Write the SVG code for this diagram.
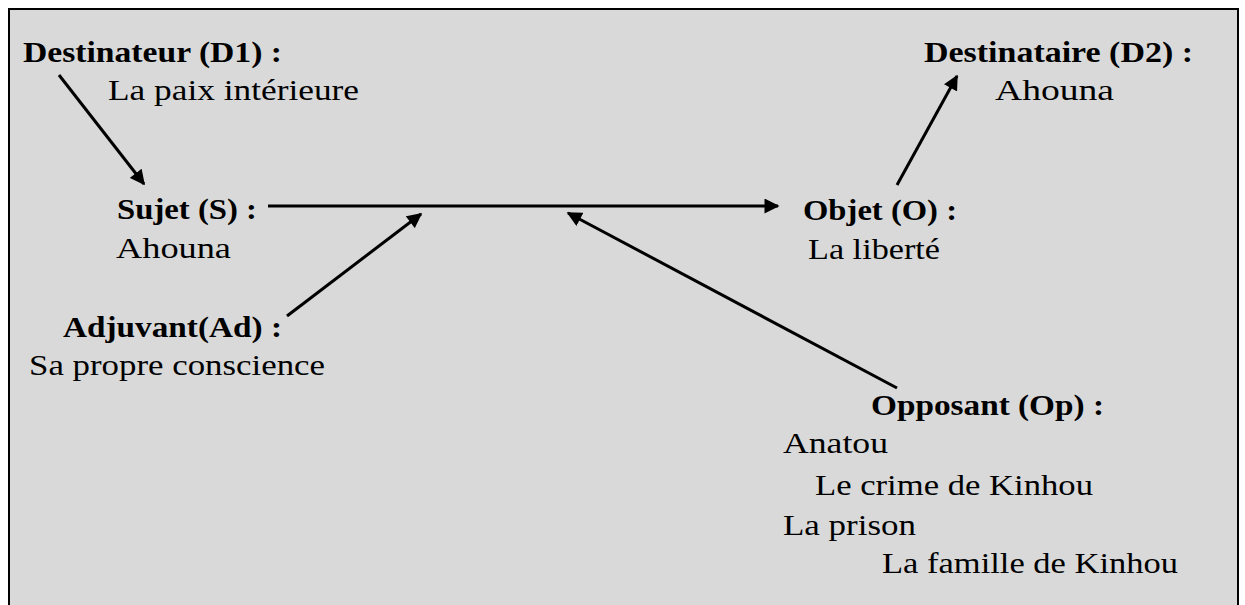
<svg xmlns="http://www.w3.org/2000/svg" width="1245" height="605" viewBox="0 0 1245 605">
<style>
.t{font-family:"Liberation Serif","Times New Roman",serif;font-size:30px;fill:#000}
.b{font-weight:bold}
.c{stroke:#000;stroke-width:3;fill:none}
</style>
<defs>
<marker id="ah" viewBox="0 0 10 10" refX="9" refY="5" markerWidth="5.2" markerHeight="5" orient="auto" markerUnits="strokeWidth">
<path d="M0,0 L10,5 L0,10 z" fill="#000"/>
</marker>
</defs>
<rect x="9" y="9" width="1229" height="603" fill="#d9d9d9" stroke="#000" stroke-width="2"/>
<g id="connectors">
<line class="c" x1="59" y1="75" x2="144" y2="184" marker-end="url(#ah)"/>
<line class="c" x1="268" y1="206" x2="778" y2="206" marker-end="url(#ah)"/>
<line class="c" x1="287" y1="316" x2="421" y2="214" marker-end="url(#ah)"/>
<line class="c" x1="897" y1="388" x2="568" y2="213" marker-end="url(#ah)"/>
<line class="c" x1="897" y1="185" x2="957" y2="76" marker-end="url(#ah)"/>
</g>
<g id="destinateur">
<text class="t b" x="23" y="62" textLength="259" lengthAdjust="spacingAndGlyphs">Destinateur (D1) :</text>
<text class="t" x="108" y="100" textLength="251" lengthAdjust="spacingAndGlyphs">La paix intérieure</text>
</g>
<g id="destinataire">
<text class="t b" x="924" y="62" textLength="269" lengthAdjust="spacingAndGlyphs">Destinataire (D2) :</text>
<text class="t" x="995" y="100" textLength="119" lengthAdjust="spacingAndGlyphs">Ahouna</text>
</g>
<g id="sujet">
<text class="t b" x="117" y="219" textLength="140" lengthAdjust="spacingAndGlyphs">Sujet (S) :</text>
<text class="t" x="116" y="258" textLength="115" lengthAdjust="spacingAndGlyphs">Ahouna</text>
</g>
<g id="objet">
<text class="t b" x="803" y="220" textLength="154" lengthAdjust="spacingAndGlyphs">Objet (O) :</text>
<text class="t" x="808" y="259" textLength="132" lengthAdjust="spacingAndGlyphs">La liberté</text>
</g>
<g id="adjuvant">
<text class="t b" x="63" y="337" textLength="219" lengthAdjust="spacingAndGlyphs">Adjuvant(Ad) :</text>
<text class="t" x="29" y="375" textLength="296" lengthAdjust="spacingAndGlyphs">Sa propre conscience</text>
</g>
<g id="opposant">
<text class="t b" x="871" y="415" textLength="233" lengthAdjust="spacingAndGlyphs">Opposant (Op) :</text>
<text class="t" x="783" y="453" textLength="105" lengthAdjust="spacingAndGlyphs">Anatou</text>
<text class="t" x="815" y="495" textLength="278" lengthAdjust="spacingAndGlyphs">Le crime de Kinhou</text>
<text class="t" x="783" y="535" textLength="133" lengthAdjust="spacingAndGlyphs">La prison</text>
<text class="t" x="882" y="573" textLength="296" lengthAdjust="spacingAndGlyphs">La famille de Kinhou</text>
</g>
</svg>
